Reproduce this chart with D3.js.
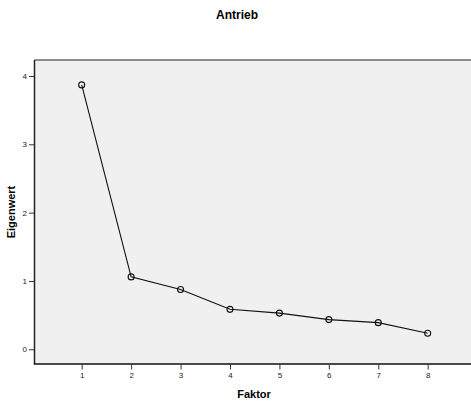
<!DOCTYPE html>
<html>
<head>
<meta charset="utf-8">
<script src="https://cdn.jsdelivr.net/npm/d3@7"></script>
<style>
  html, body { margin: 0; padding: 0; background: #fff; }
  svg { display: block; font-family: "Liberation Sans", Arial, sans-serif; }
</style>
</head>
<body>
<svg id="chart" width="471" height="406"></svg>
<script>
// Scree plot data: factor number and eigenvalue
const factors = [1, 2, 3, 4, 5, 6, 7, 8];
const eigenvalues = [3.87, 1.06, 0.875, 0.585, 0.53, 0.435, 0.39, 0.235];
const xTicks = [1, 2, 3, 4, 5, 6, 7, 8];
const yTicks = [0, 1, 2, 3, 4];

const svg = d3.select("#chart");

// Plot frame
const frame = { left: 34.5, top: 60, right: 472, bottom: 364 };

const x = d3.scaleLinear().domain([1, 8]).range([81.7, 427.7]);
const y = d3.scaleLinear().domain([0, 4]).range([349.3, 76]);

svg.append("rect")
  .attr("x", frame.left).attr("y", frame.top)
  .attr("width", frame.right - frame.left)
  .attr("height", frame.bottom - frame.top)
  .attr("fill", "#f0f0f0");

// Frame borders
svg.append("line")
  .attr("x1", frame.left).attr("x2", frame.right)
  .attr("y1", frame.top).attr("y2", frame.top)
  .attr("stroke", "#6a6a6a").attr("stroke-width", 1.5);
svg.append("line")
  .attr("x1", frame.left).attr("x2", frame.left)
  .attr("y1", frame.top).attr("y2", frame.bottom)
  .attr("stroke", "#222").attr("stroke-width", 1.5);
svg.append("line")
  .attr("x1", frame.left - 0.75).attr("x2", frame.right)
  .attr("y1", frame.bottom).attr("y2", frame.bottom)
  .attr("stroke", "#111").attr("stroke-width", 1.5);

// Axes
const yAxis = d3.axisLeft(y).tickValues(yTicks).tickSize(5).tickPadding(2).tickFormat(d3.format("d"));
const gy = svg.append("g").attr("transform", `translate(${frame.left - 0.5},0)`).call(yAxis);
gy.select(".domain").remove();
gy.selectAll(".tick line").attr("stroke", "#333");
gy.selectAll(".tick text").attr("font-size", 8).attr("fill", "#222")
  .attr("font-family", "Liberation Sans, Arial, sans-serif");

const xAxis = d3.axisBottom(x).tickValues(xTicks).tickSize(5).tickPadding(3).tickFormat(d3.format("d"));
const gx = svg.append("g").attr("transform", `translate(0,${frame.bottom + 0.5})`).call(xAxis);
gx.select(".domain").remove();
gx.selectAll(".tick line").attr("stroke", "#333");
gx.selectAll(".tick text").attr("font-size", 8).attr("fill", "#222")
  .attr("font-family", "Liberation Sans, Arial, sans-serif");

// Eigenvalue line
const data = factors.map((f, i) => ({ f, v: eigenvalues[i] }));
svg.append("path")
  .datum(data)
  .attr("fill", "none")
  .attr("stroke", "#111")
  .attr("stroke-width", 1.1)
  .attr("d", d3.line().x(d => x(d.f)).y(d => y(d.v)));

svg.selectAll("circle.pt")
  .data(data)
  .enter().append("circle")
  .attr("class", "pt")
  .attr("cx", d => x(d.f)).attr("cy", d => y(d.v))
  .attr("r", 3)
  .attr("fill", "none")
  .attr("stroke", "#111")
  .attr("stroke-width", 1.1);

// Titles
svg.append("text")
  .attr("x", 237).attr("y", 19)
  .attr("text-anchor", "middle")
  .attr("font-size", 12).attr("font-weight", "bold")
  .text("Antrieb");

svg.append("text")
  .attr("x", 254).attr("y", 398)
  .attr("text-anchor", "middle")
  .attr("font-size", 11).attr("font-weight", "bold")
  .text("Faktor");

svg.append("text")
  .attr("transform", "translate(15,212) rotate(-90)")
  .attr("text-anchor", "middle")
  .attr("font-size", 11).attr("font-weight", "bold")
  .text("Eigenwert");
</script>
</body>
</html>
